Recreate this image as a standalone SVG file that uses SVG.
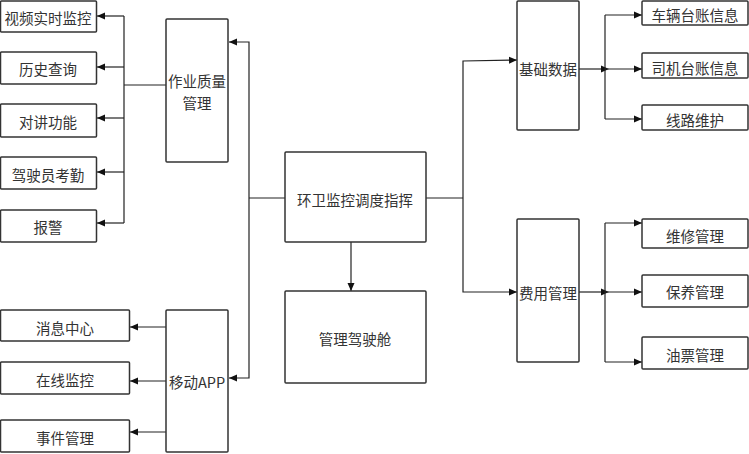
<svg xmlns="http://www.w3.org/2000/svg" width="749" height="454" viewBox="0 0 749 454">
<style>
.b{fill:#fff;stroke:#333;stroke-width:1.5}
.c{fill:none;stroke:#222;stroke-width:1.2}
text{font-family:"Noto Sans CJK SC","Liberation Sans",sans-serif;font-size:14.5px;fill:#333;text-anchor:middle;dominant-baseline:central}
</style>
<defs>
<marker id="a" viewBox="0 0 8 8" refX="8" refY="4" markerWidth="8" markerHeight="8" markerUnits="userSpaceOnUse" orient="auto"><path d="M0,0.5L8,4L0,7.5z" fill="#111"/></marker>
<marker id="m" viewBox="0 0 8 8" refX="4" refY="4" markerWidth="8" markerHeight="8" markerUnits="userSpaceOnUse" orient="auto"><path d="M0,0.5L8,4L0,7.5z" fill="#111"/></marker>
</defs>
<g id="connectors">
<path class="c" d="M166,85H124M124,16V223"/>
<path class="c" marker-end="url(#a)" d="M124,16H97"/>
<path class="c" marker-end="url(#a)" d="M124,67H97"/>
<path class="c" marker-end="url(#a)" d="M124,118H97"/>
<path class="c" marker-end="url(#a)" d="M124,172H97"/>
<path class="c" marker-end="url(#a)" d="M124,223H97"/>
<path class="c" d="M285,198H249"/>
<path class="c" marker-end="url(#a)" d="M249,198V42H229"/>
<path class="c" marker-end="url(#a)" d="M249,198V378H229"/>
<path class="c" marker-end="url(#a)" d="M166,327H130"/>
<path class="c" marker-end="url(#a)" d="M166,381H130"/>
<path class="c" marker-end="url(#a)" d="M166,432H130"/>
<path class="c" marker-end="url(#a)" d="M351,242V291"/>
<path class="c" d="M426,198H463"/>
<path class="c" marker-end="url(#a)" d="M463,198V61L517,60"/>
<path class="c" marker-end="url(#a)" d="M463,198V292H517"/>
<path class="c" marker-end="url(#m)" d="M579,69H605"/>
<path class="c" d="M605,15V119"/>
<path class="c" marker-end="url(#a)" d="M605,15H642"/>
<path class="c" marker-end="url(#a)" d="M605,69H642"/>
<path class="c" marker-end="url(#a)" d="M605,119H642"/>
<path class="c" marker-end="url(#m)" d="M579,292H605"/>
<path class="c" d="M605,223V362"/>
<path class="c" marker-end="url(#a)" d="M605,223H642"/>
<path class="c" marker-end="url(#a)" d="M605,292H642"/>
<path class="c" marker-end="url(#a)" d="M605,362H642"/>
</g>
<g id="n1"><rect class="b" x="0.5" y="1" width="96" height="31" rx="1"/><text x="48" y="17">视频实时监控</text></g>
<g id="n2"><rect class="b" x="0.5" y="52" width="96" height="32" rx="1"/><text x="48" y="68">历史查询</text></g>
<g id="n3"><rect class="b" x="0.5" y="104" width="96" height="33" rx="1"/><text x="48" y="121">对讲功能</text></g>
<g id="n4"><rect class="b" x="0.5" y="157" width="96" height="32" rx="1"/><text x="48" y="174">驾驶员考勤</text></g>
<g id="n5"><rect class="b" x="0.5" y="210" width="96" height="32" rx="1"/><text x="48" y="226">报警</text></g>
<g id="n6"><rect class="b" x="166" y="19" width="62" height="143" rx="1"/><text x="197" y="80"><tspan x="197" y="80">作业质量</tspan><tspan x="197" y="102">管理</tspan></text></g>
<g id="n7"><rect class="b" x="0.5" y="310" width="129" height="31" rx="1"/><text x="65" y="327">消息中心</text></g>
<g id="n8"><rect class="b" x="0.5" y="362" width="129" height="32" rx="1"/><text x="65" y="379">在线监控</text></g>
<g id="n9"><rect class="b" x="0.5" y="420" width="129" height="32" rx="1"/><text x="65" y="437">事件管理</text></g>
<g id="n10"><rect class="b" x="166" y="310" width="62" height="142" rx="1"/><text x="197" y="381">移动APP</text></g>
<g id="n11"><rect class="b" x="285" y="152" width="141" height="90" rx="1"/><text x="355" y="199">环卫监控调度指挥</text></g>
<g id="n12"><rect class="b" x="285" y="291" width="141" height="92" rx="1"/><text x="355" y="338">管理驾驶舱</text></g>
<g id="n13"><rect class="b" x="517" y="1" width="62" height="129" rx="1"/><text x="548" y="68">基础数据</text></g>
<g id="n14"><rect class="b" x="517" y="219" width="62" height="143" rx="1"/><text x="548" y="292">费用管理</text></g>
<g id="n15"><rect class="b" x="642" y="1" width="106" height="24" rx="1"/><text x="695" y="14">车辆台账信息</text></g>
<g id="n16"><rect class="b" x="642" y="53" width="106" height="25" rx="1"/><text x="695" y="67">司机台账信息</text></g>
<g id="n17"><rect class="b" x="642" y="105" width="106" height="25" rx="1"/><text x="695" y="119">线路维护</text></g>
<g id="n18"><rect class="b" x="642" y="219" width="106" height="29" rx="1"/><text x="695" y="235">维修管理</text></g>
<g id="n19"><rect class="b" x="642" y="275" width="106" height="32" rx="1"/><text x="695" y="291">保养管理</text></g>
<g id="n20"><rect class="b" x="642" y="337" width="106" height="32" rx="1"/><text x="695" y="354">油票管理</text></g>
</svg>
